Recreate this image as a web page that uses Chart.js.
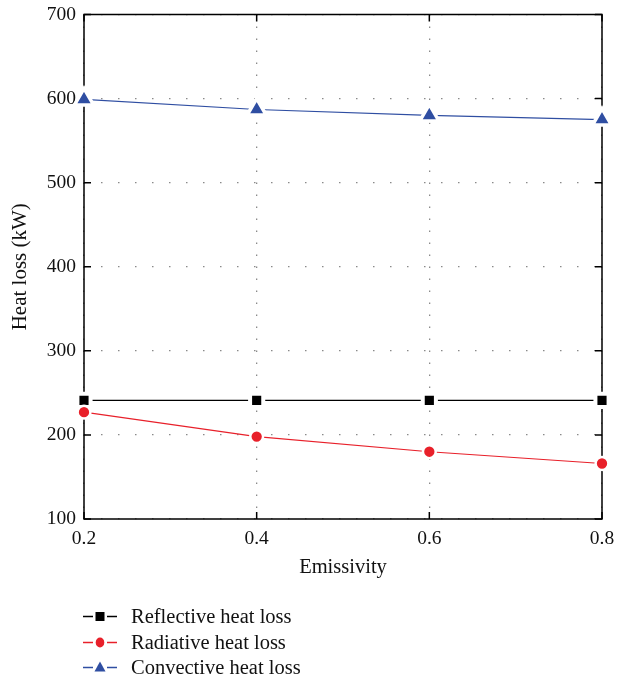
<!DOCTYPE html>
<html>
<head>
<meta charset="utf-8">
<script src="https://cdn.jsdelivr.net/npm/chart.js@4.4.1/dist/chart.umd.min.js"></script>
<style>
  body { margin: 0; background: #fff; }
  #wrap { position: relative; width: 624px; height: 680px; }
  #legend { position: absolute; left: 82px; top: 604px; font-family: "Liberation Serif", "DejaVu Serif", serif; font-size: 20.5px; color: #111; }
  .row { height: 25.5px; display: flex; align-items: center; }
  .row svg { margin-right: 13px; }
</style>
</head>
<body>
<div id="wrap">
  <canvas id="heatChart" width="624" height="680"></canvas>
  <div id="legend"></div>
</div>
<script>
// Datos
var emissivity = [0.2, 0.4, 0.6, 0.8];
var reflective = [241, 241, 241, 241];
var radiative = [227, 198, 180, 166];
var convective = [599, 587, 580, 575];
var xTicks = [0.2, 0.4, 0.6, 0.8];
var yTicks = [100, 200, 300, 400, 500, 600, 700];

var seriesNames = ['Reflective heat loss', 'Radiative heat loss', 'Convective heat loss'];
var seriesColors = ['#000000', '#e8202a', '#2f4ea2'];

var fontFamily = '"Liberation Serif", "DejaVu Serif", serif';

function toPoints(values) {
    return values.map(function(v, i) { return { x: emissivity[i], y: v }; });
}

// Marco negro con marcas hacia dentro en los cuatro lados
var framePlugin = {
    id: 'frame',
    beforeDatasetsDraw: function(chart) {
        var ctx = chart.ctx;
        var a = chart.chartArea;
        var xs = chart.scales.x, ys = chart.scales.y;
        var len = 7;
        ctx.save();
        ctx.strokeStyle = '#000';
        ctx.lineWidth = 1.5;
        ctx.strokeRect(a.left, a.top, a.right - a.left, a.bottom - a.top);
        ctx.beginPath();
        xTicks.forEach(function(t) {
            var px = xs.getPixelForValue(t);
            ctx.moveTo(px, a.bottom); ctx.lineTo(px, a.bottom - len);
            ctx.moveTo(px, a.top); ctx.lineTo(px, a.top + len);
        });
        yTicks.forEach(function(t) {
            var py = ys.getPixelForValue(t);
            ctx.moveTo(a.left, py); ctx.lineTo(a.left + len, py);
            ctx.moveTo(a.right, py); ctx.lineTo(a.right - len, py);
        });
        ctx.stroke();
        ctx.restore();
    }
};

var ctx = document.getElementById('heatChart').getContext('2d');
var heatChart = new Chart(ctx, {
    type: 'line',
    data: {
        datasets: [{
            label: seriesNames[0],
            data: toPoints(reflective),
            borderColor: seriesColors[0],
            backgroundColor: seriesColors[0],
            borderWidth: 1.2,
            pointStyle: 'rect',
            pointRadius: 9.3,
            pointBorderColor: '#fff',
            pointBorderWidth: 4,
            order: 2,
            clip: false
        }, {
            label: seriesNames[1],
            data: toPoints(radiative),
            borderColor: seriesColors[1],
            backgroundColor: seriesColors[1],
            borderWidth: 1.2,
            pointStyle: 'circle',
            pointRadius: 6.4,
            pointBorderColor: '#fff',
            pointBorderWidth: 2.5,
            order: 1,
            clip: false
        }, {
            label: seriesNames[2],
            data: toPoints(convective),
            borderColor: seriesColors[2],
            backgroundColor: seriesColors[2],
            borderWidth: 1.2,
            pointStyle: 'triangle',
            pointRadius: 11,
            pointBorderColor: '#fff',
            pointBorderWidth: 3.5,
            order: 3,
            clip: false
        }]
    },
    options: {
        responsive: false,
        animation: false,
        devicePixelRatio: 1,
        layout: { padding: { top: 14, right: 22, left: 0, bottom: 90 } },
        plugins: {
            legend: { display: false },
            tooltip: { enabled: false }
        },
        scales: {
            x: {
                type: 'linear',
                min: 0.2,
                max: 0.8,
                afterBuildTicks: function(scale) {
                    scale.ticks = xTicks.map(function(v) { return { value: v }; });
                },
                afterFit: function(scale) {
                    scale.height = 71;
                    scale.paddingLeft = 0;
                    scale.paddingRight = 0;
                },
                grid: { color: '#8a8a8a', lineWidth: 1.3, drawTicks: false },
                border: { display: false, dash: [1.5, 10.5] },
                ticks: {
                    padding: 8,
                    color: '#111',
                    font: { family: fontFamily, size: 19.5 },
                    callback: function(v) { return v.toFixed(1); }
                },
                title: {
                    display: true,
                    text: 'Emissivity',
                    color: '#111',
                    font: { family: fontFamily, size: 20.5 },
                    padding: { top: 0, bottom: 10 }
                }
            },
            y: {
                type: 'linear',
                min: 100,
                max: 700,
                afterBuildTicks: function(scale) {
                    scale.ticks = yTicks.map(function(v) { return { value: v }; });
                },
                afterFit: function(scale) {
                    scale.width = 84;
                    scale.paddingTop = 0;
                    scale.paddingBottom = 0;
                },
                grid: { color: '#8a8a8a', lineWidth: 1.3, drawTicks: false },
                border: { display: false, dash: [1.5, 15.5] },
                ticks: {
                    padding: 8,
                    color: '#111',
                    font: { family: fontFamily, size: 19.5 }
                },
                title: {
                    display: true,
                    text: 'Heat loss (kW)',
                    color: '#111',
                    font: { family: fontFamily, size: 21 },
                    padding: { top: 8, bottom: 0 }
                }
            }
        }
    },
    plugins: [framePlugin]
});

// Leyenda en HTML debajo del gráfico
var markerSvg = [
    '<rect x="13.5" y="6" width="9" height="9" fill="#000"/>',
    '<ellipse cx="18" cy="10.5" rx="4.3" ry="5" fill="#e8202a"/>',
    '<polygon points="18,4.5 23.5,14.5 12.5,14.5" fill="#2f4ea2"/>'
];
var legendHtml = '';
seriesNames.forEach(function(name, i) {
    var c = seriesColors[i];
    legendHtml += '<div class="row"><svg width="36" height="21">' +
        '<line x1="1" y1="10.5" x2="11" y2="10.5" stroke="' + c + '" stroke-width="1.5"/>' +
        '<line x1="25" y1="10.5" x2="35" y2="10.5" stroke="' + c + '" stroke-width="1.5"/>' +
        markerSvg[i] + '</svg><span>' + name + '</span></div>';
});
document.getElementById('legend').innerHTML = legendHtml;
</script>
</body>
</html>
